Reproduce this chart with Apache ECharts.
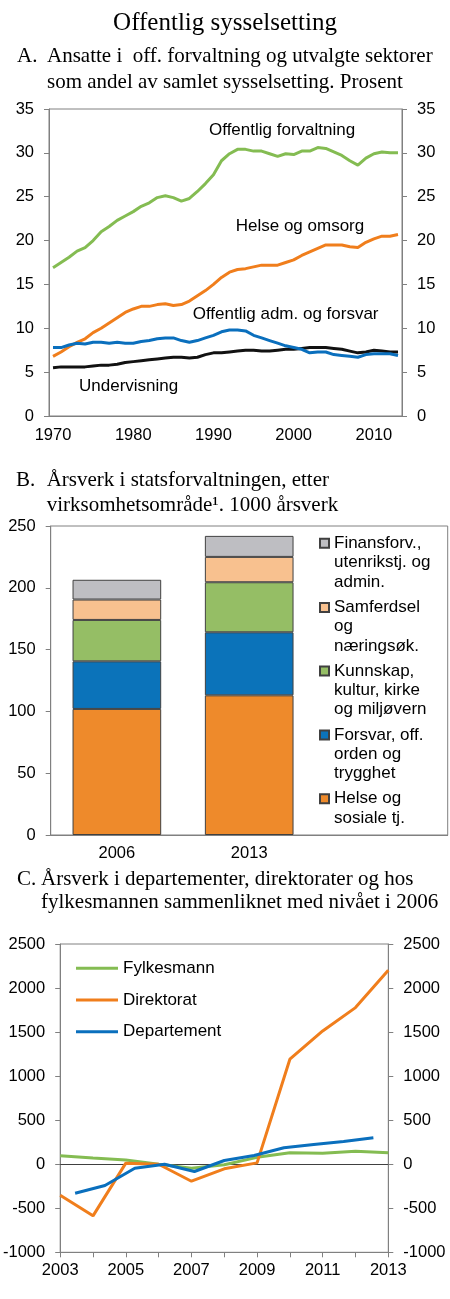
<!DOCTYPE html>
<html>
<head>
<meta charset="utf-8">
<script src="https://cdn.jsdelivr.net/npm/echarts@6/dist/echarts.min.js"></script>
<style>
  html, body { margin: 0; padding: 0; background: #fff; }
  #main { width: 450px; height: 1299px; }
</style>
</head>
<body>
<div id="main"></div>
<script>
// --- A: andel av samlet sysselsetting, prosent
const yearsA = ["1970","1971","1972","1973","1974","1975","1976","1977","1978","1979",
  "1980","1981","1982","1983","1984","1985","1986","1987","1988","1989",
  "1990","1991","1992","1993","1994","1995","1996","1997","1998","1999",
  "2000","2001","2002","2003","2004","2005","2006","2007","2008","2009",
  "2010","2011","2012","2013"];
const offForvaltning = [16.9,17.5,18.1,18.8,19.2,20.0,21.0,21.6,22.3,22.8,
  23.3,23.9,24.3,24.9,25.1,24.9,24.5,24.8,25.6,26.5,
  27.5,29.1,29.9,30.4,30.4,30.2,30.2,29.9,29.6,29.9,
  29.8,30.2,30.2,30.6,30.5,30.1,29.7,29.1,28.6,29.4,
  29.9,30.1,30.0,30.0];
const helseOmsorg = [6.8,7.3,7.9,8.4,8.8,9.5,10.0,10.6,11.2,11.8,
  12.2,12.5,12.5,12.7,12.8,12.6,12.7,13.1,13.7,14.3,
  15.0,15.8,16.4,16.7,16.8,17.0,17.2,17.2,17.2,17.5,
  17.8,18.3,18.7,19.1,19.5,19.5,19.5,19.3,19.2,19.8,
  20.2,20.5,20.5,20.7];
const offAdmForsvar = [7.8,7.8,8.1,8.3,8.2,8.4,8.4,8.3,8.4,8.3,
  8.3,8.5,8.6,8.8,8.9,8.9,8.6,8.4,8.6,8.9,
  9.2,9.6,9.8,9.8,9.7,9.2,8.9,8.6,8.3,8.0,
  7.8,7.6,7.2,7.3,7.3,7.0,6.9,6.8,6.7,7.0,
  7.1,7.1,7.1,6.9];
const undervisning = [5.5,5.6,5.6,5.6,5.6,5.7,5.8,5.8,5.9,6.1,
  6.2,6.3,6.4,6.5,6.6,6.7,6.7,6.6,6.7,7.0,
  7.2,7.2,7.3,7.4,7.5,7.5,7.4,7.4,7.5,7.6,
  7.6,7.7,7.8,7.8,7.8,7.7,7.6,7.4,7.2,7.3,
  7.5,7.4,7.3,7.3];

// --- B: årsverk i statsforvaltningen, 1000 årsverk
const barYears = ["2006", "2013", ""];
const helseSosiale = [102, 113];
const forsvarOrden = [38.5, 51];
const kunnskapKultur = [33.5, 40.5];
const samferdsel = [16.5, 20.5];
const finansforv = [16, 17];
const barNames = ["Helse og\nsosiale tj.", "Forsvar, off.\norden og\ntrygghet",
  "Kunnskap,\nkultur, kirke\nog miljøvern", "Samferdsel\nog\nnæringsøk.",
  "Finansforv.,\nutenrikstj. og\nadmin."];

// --- C: endring fra 2006
const yearsC = ["2003","2004","2005","2006","2007","2008","2009","2010","2011","2012","2013"];
const fylkesmann = [95, 70, 48, 0, -45, -7, 78, 130, 125, 148, 130];
const direktorat = [-352, -586, 12, 0, -193, -52, 15, 1192, 1513, 1778, 2202];
const departement = [-329, -242, -45, 0, -83, 42, 99, 187, 224, 258, 300];

const GREEN = "#84bc52", ORANGE = "#f07e1c", BLUE = "#0a6fbd", BLACK = "#111111";
const barColors = ["#ee8a2b", "#0b73ba", "#95be65", "#f8c18f", "#bebec2"];
const sans = "Liberation Sans";
const serif = "Liberation Serif";
const axisGray = "#808080";

function txt(x, y, s, size, family, align) {
  return {
    type: "text", x: x, y: y, silent: true,
    style: { text: s, fontSize: size, fontFamily: family, fill: "#000",
      align: align || "left", verticalAlign: "middle" }
  };
}

function valueAxis(grid, pos, min, max, step, labels) {
  return {
    type: "value", gridIndex: grid, position: pos, min: min, max: max, interval: step,
    splitLine: { show: false },
    axisLine: { show: true, lineStyle: { color: axisGray } },
    axisTick: { show: true, length: 5, lineStyle: { color: axisGray } },
    axisLabel: { show: labels, color: "#000", fontSize: 16.5, fontFamily: sans, margin: 15,
      formatter: (v) => String(v) }
  };
}

const chart = echarts.init(document.getElementById("main"));

const barSeries = [helseSosiale, forsvarOrden, kunnskapKultur, samferdsel, finansforv].map((d, i) => ({
  type: "bar", name: barNames[i], xAxisIndex: 1, yAxisIndex: 2, stack: "b",
  barWidth: "67%", data: d,
  itemStyle: { color: barColors[i], borderColor: "#404040", borderWidth: 1 }
}));

// one legend per bar item; blank lines in front keep the square on the first text line
const legendCenters = [798.7, 735, 671, 607.5, 543.3];
const LH = 19.3;
const barLegends = barNames.map((n, i) => {
  const lines = n.split("\n").length;
  return {
    data: [n], left: 319, top: legendCenters[i] - (2 * lines - 1) * LH / 2,
    padding: 0, icon: "rect", itemWidth: 9, itemHeight: 9, selectedMode: false,
    formatter: (name) => "\n".repeat(lines - 1) + name,
    textStyle: { fontSize: 17, fontFamily: sans, color: "#000", lineHeight: LH }
  };
});

function lineA(name, data, color) {
  return { type: "line", name: name, xAxisIndex: 0, yAxisIndex: 0, data: data,
    symbol: "none", lineStyle: { color: color, width: 3 }, itemStyle: { color: color } };
}
function lineC(name, data, color, xi) {
  return { type: "line", name: name, xAxisIndex: xi, yAxisIndex: 3, data: data,
    symbol: "none", lineStyle: { color: color, width: 3 }, itemStyle: { color: color } };
}

const option = {
  animation: false,
  backgroundColor: "#fff",
  grid: [
    { left: 49, top: 109, width: 353, height: 307, show: true, borderColor: axisGray, borderWidth: 1 },
    { left: 50.7, top: 526, width: 397, height: 309, show: true, borderColor: axisGray, borderWidth: 1 },
    { left: 58.3, top: 944, width: 330, height: 308.3, show: true, borderColor: axisGray, borderWidth: 1 }
  ],
  xAxis: [
    { type: "category", gridIndex: 0, data: yearsA, boundaryGap: true,
      axisLine: { lineStyle: { color: axisGray } },
      axisTick: { interval: 4, length: 5, lineStyle: { color: axisGray } },
      axisLabel: { interval: 9, color: "#000", fontSize: 16.5, fontFamily: sans, margin: 11 } },
    { type: "category", gridIndex: 1, data: barYears, boundaryGap: true,
      axisLine: { lineStyle: { color: axisGray } },
      axisTick: { length: 5, lineStyle: { color: axisGray } },
      axisLabel: { color: "#000", fontSize: 16.5, fontFamily: sans, margin: 10 } },
    { type: "category", gridIndex: 2, data: yearsC, boundaryGap: false,
      axisLine: { onZero: false, lineStyle: { color: axisGray } },
      axisTick: { interval: 0, length: 5, lineStyle: { color: axisGray } },
      axisLabel: { interval: 1, color: "#000", fontSize: 16.5, fontFamily: sans, margin: 10 } },
    // departement is plotted between tick marks; this axis also draws the zero line
    { type: "category", gridIndex: 2, data: yearsC, boundaryGap: true,
      axisLine: { show: true, onZero: true, lineStyle: { color: "#404040" } },
      axisTick: { show: false }, axisLabel: { show: false } }
  ],
  yAxis: [
    valueAxis(0, "left", 0, 35, 5, true),
    valueAxis(0, "right", 0, 35, 5, true),
    valueAxis(1, "left", 0, 250, 50, true),
    valueAxis(2, "left", -1000, 2500, 500, true),
    valueAxis(2, "right", -1000, 2500, 500, true)
  ],
  legend: barLegends.concat([{
    data: ["Fylkesmann", "Direktorat", "Departement"],
    orient: "vertical", left: 76, top: 958.3, padding: 0, selectedMode: false,
    icon: "rect", itemWidth: 42, itemHeight: 3, itemGap: 11.7,
    textStyle: { fontSize: 17, fontFamily: sans, color: "#000", lineHeight: 20 }
  }]),
  series: [
    lineA("Offentlig forvaltning", offForvaltning, GREEN),
    lineA("Helse og omsorg", helseOmsorg, ORANGE),
    lineA("Undervisning", undervisning, BLACK),
    lineA("Offentlig adm. og forsvar", offAdmForsvar, BLUE)
  ].concat(barSeries).concat([
    lineC("Fylkesmann", fylkesmann, GREEN, 2),
    lineC("Direktorat", direktorat, ORANGE, 2),
    lineC("Departement", departement, BLUE, 3)
  ]),
  graphic: [
    txt(225, 23, "Offentlig sysselsetting", 25, serif, "center"),
    txt(17, 56, "A.", 21, serif),
    txt(47, 56, "Ansatte i  off. forvaltning og utvalgte sektorer", 21, serif),
    txt(47, 82, "som andel av samlet sysselsetting. Prosent", 21, serif),
    txt(209, 130, "Offentlig forvaltning", 17, sans),
    txt(235.7, 226, "Helse og omsorg", 17, sans),
    txt(192.7, 314.3, "Offentlig adm. og forsvar", 17, sans),
    txt(79, 386.7, "Undervisning", 17, sans),
    txt(16, 480, "B.", 21, serif),
    txt(46.7, 480, "Årsverk i statsforvaltningen, etter", 21, serif),
    txt(46.7, 505, "virksomhetsområde¹. 1000 årsverk", 21, serif),
    txt(17, 879, "C.", 21, serif),
    txt(41, 879, "Årsverk i departementer, direktorater og hos", 21, serif),
    txt(41, 902, "fylkesmannen sammenliknet med nivået i 2006", 21, serif)
  ]
};

chart.setOption(option);
window.onresize = function() {
  chart.resize();
};
</script>
</body>
</html>
